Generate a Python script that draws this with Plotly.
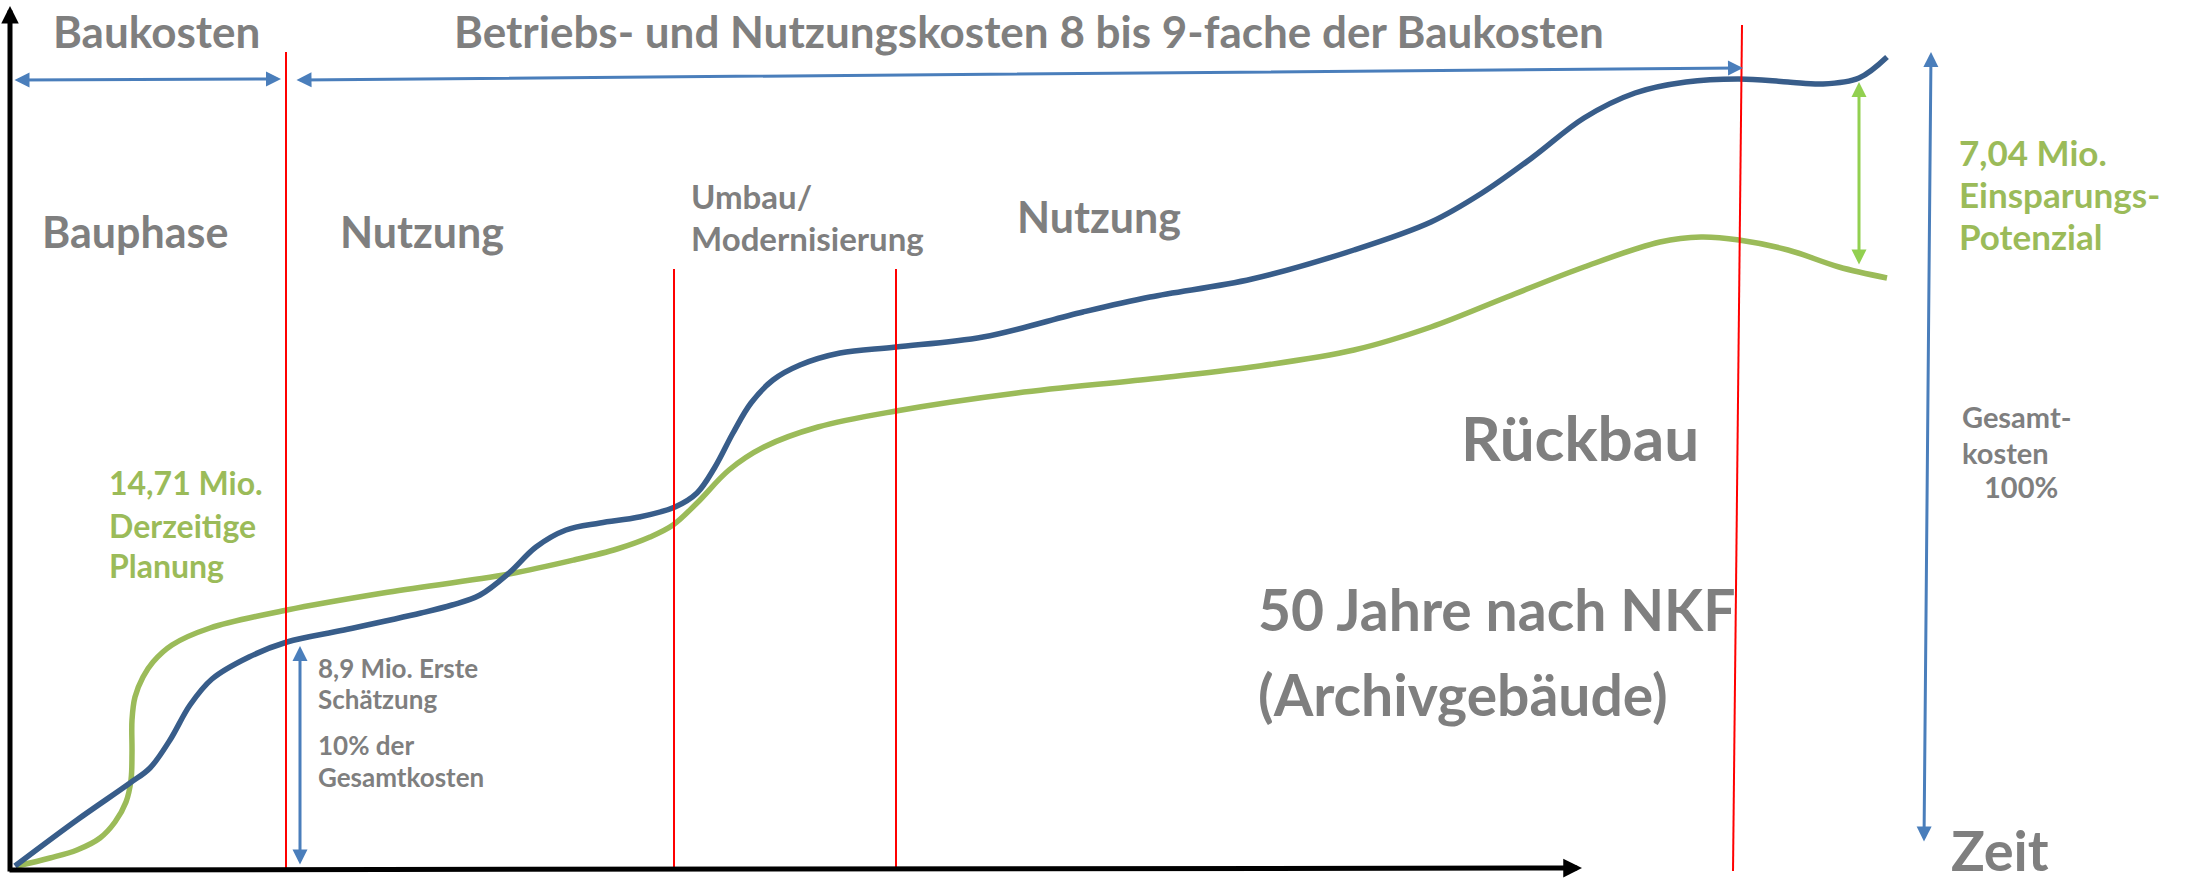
import plotly.graph_objects as go

W, H = 2190, 884

# Cost curves: time position (x) and cost level (screen row, smaller = higher cost)
blue_x = [15, 77, 130, 150, 170, 190, 212, 249, 287, 344, 421, 452, 480, 509, 536, 566, 600,
          639, 675, 697, 715, 733, 751, 773, 800, 840, 896, 983, 1083, 1150, 1252, 1354,
          1431, 1482, 1533, 1584, 1635, 1686, 1739, 1788, 1823, 1859, 1887]
blue_y = [866, 820, 783, 768, 740, 705, 679, 657, 642, 630, 613, 605, 595, 573, 547, 530, 523,
          517, 507, 493, 467, 433, 403, 380, 365, 353, 347, 337, 312, 297, 279, 250,
          222, 193, 157, 118, 93, 82, 79, 82, 84, 78, 57]

green_x = [17, 50, 77, 100, 115, 126, 131, 132, 132, 135, 143, 153, 172, 210, 287, 383,
           509, 574, 617, 650, 673, 697, 729, 764, 818, 896, 1017, 1150, 1252, 1354, 1431,
           1507, 1584, 1660, 1701, 1739, 1788, 1839, 1887]
green_y = [866, 858, 850, 838, 822, 802, 780, 753, 720, 697, 677, 662, 645, 628, 610, 593,
           574, 560, 549, 537, 525, 503, 470, 447, 427, 411, 393, 379, 367, 350, 327,
           297, 267, 242, 237, 240, 250, 267, 278]

# Phase boundaries (red lines): x at top, top row, x at bottom
phase_top_x = [286, 674, 896, 1742]
phase_top_y = [52, 269, 269, 25]
phase_bot_x = [286, 674, 896, 1733]
axis_row = 871

BLUE = "#385D8A"
GREEN = "#9BBB59"
ARROW_BLUE = "#4A7EBB"
ARROW_GREEN = "#92D050"
GRAY = "#7F7F7F"
FONT = "Lato, Roboto, sans-serif"

fig = go.Figure()
fig.add_trace(go.Scatter(x=green_x, y=green_y, mode="lines",
                         line=dict(color=GREEN, width=5.5, shape="spline", smoothing=1.0),
                         hoverinfo="skip"))
fig.add_trace(go.Scatter(x=blue_x, y=blue_y, mode="lines",
                         line=dict(color=BLUE, width=5.5, shape="spline", smoothing=1.0),
                         hoverinfo="skip"))

for tx, ty, bx in zip(phase_top_x, phase_top_y, phase_bot_x):
    fig.add_shape(type="line", x0=tx, y0=ty, x1=bx, y1=axis_row,
                  line=dict(color="#FF0000", width=2), layer="above")

annotations = []

def arrow(x0, y0, x1, y1, color, width, size=1.0, both=False, head=2):
    annotations.append(dict(x=x1, y=y1, ax=x0, ay=y0, xref="x", yref="y", axref="x", ayref="y",
                            showarrow=True, arrowhead=head, startarrowhead=head,
                            arrowside="end+start" if both else "end",
                            arrowsize=size, startarrowsize=size,
                            arrowwidth=width, arrowcolor=color, text=""))

# axes
arrow(10, 873, 10, 6, "black", 5, 0.7)
arrow(8, 870, 1582, 868, "black", 5, 0.75)
# cost spans
arrow(13, 80, 281, 79, ARROW_BLUE, 3, 1.0, both=True)
arrow(295, 80, 1743, 68, ARROW_BLUE, 3, 1.0, both=True)
arrow(1859, 266, 1859, 82, ARROW_GREEN, 3, 1.0, both=True)
arrow(1924, 843, 1931, 52, ARROW_BLUE, 3, 1.0, both=True)
arrow(300, 866, 300, 646, ARROW_BLUE, 3, 1.0, both=True)

def text(x, y, s, size, color=GRAY, anchor="left", yanchor="middle"):
    annotations.append(dict(x=x, y=y, xref="x", yref="y", text=s, showarrow=False,
                            xanchor=anchor, yanchor=yanchor, borderpad=0,
                            font=dict(family=FONT, size=size, color=color, weight="bold")))

text(156, 31, "Baukosten", 44, anchor="center")
text(1029, 31, "Betriebs- und Nutzungskosten 8 bis 9-fache der Baukosten", 44, anchor="center")
text(135, 231, "Bauphase", 43, anchor="center")
text(422, 231, "Nutzung", 43, anchor="center")
text(690, 196, "Umbau/", 33)
text(690, 238, "Modernisierung", 33)
text(1099, 216, "Nutzung", 43, anchor="center")
text(1580, 437, "Rückbau", 62, anchor="center")
text(1257, 609, "50 Jahre nach NKF", 57)
text(1257, 694, "(Archivgebäude)", 57)
text(1961, 416, "Gesamt-", 29)
text(1961, 452, "kosten", 29)
text(1983, 486, "100%", 29)
text(1958, 152, "7,04 Mio.", 35, GREEN)
text(1958, 194, "Einsparungs-", 35, GREEN)
text(1958, 236, "Potenzial", 35, GREEN)
text(108, 482, "14,71 Mio.", 32, GREEN)
text(108, 525, "Derzeitige", 32, GREEN)
text(108, 565, "Planung", 32, GREEN)
text(317, 668, "8,9 Mio. Erste", 26)
text(317, 699, "Schätzung", 26)
text(317, 745, "10% der", 26)
text(317, 777, "Gesamtkosten", 26)
text(1950, 884, "Zeit", 56, yanchor="bottom")

fig.update_layout(width=W, height=H, margin=dict(l=0, r=0, t=0, b=0),
                  paper_bgcolor="white", plot_bgcolor="white", showlegend=False,
                  hovermode=False,
                  xaxis=dict(range=[0, W], visible=False, fixedrange=True),
                  yaxis=dict(range=[H, 0], visible=False, fixedrange=True),
                  annotations=annotations)

# remove the page's default body margin so the figure fills the window exactly
fig.write_html("out.html", config={"displayModeBar": False, "staticPlot": True},
               post_script="document.body.style.margin='0px';")
